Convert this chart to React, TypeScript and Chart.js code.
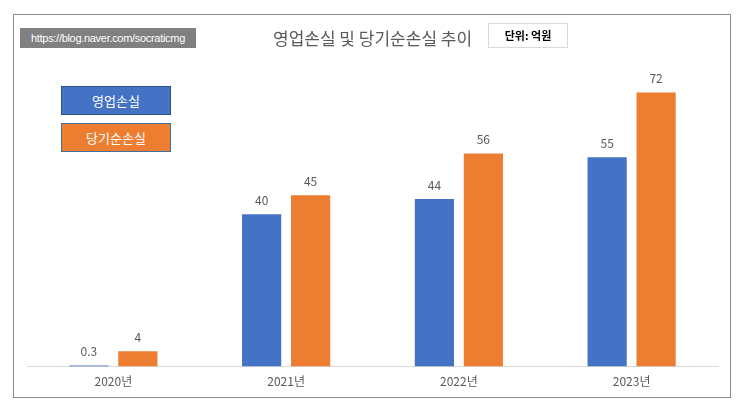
import React, { useEffect, useRef } from "react";
import { Chart, registerables } from "chart.js";

Chart.register(...registerables);

const categories = ["2020년", "2021년", "2022년", "2023년"];
const operatingLoss = [0.3, 40, 44, 55];
const netLoss = [4, 45, 56, 72];
const seriesNames = ["영업손실", "당기순손실"];
const labelsOperating = ["0.3", "40", "44", "55"];
const labelsNet = ["4", "45", "56", "72"];

const BLUE = "#4472C4";
const ORANGE = "#ED7D31";
const KFONT = "'Noto Sans CJK KR', 'Noto Sans', sans-serif";

const valueLabelPlugin = {
  id: "valueLabels",
  afterDatasetsDraw(chart: any) {
    const ctx = chart.ctx;
    ctx.save();
    ctx.fillStyle = "#595959";
    ctx.font = `12px ${KFONT}`;
    ctx.textAlign = "center";
    ctx.textBaseline = "bottom";
    chart.data.datasets.forEach((ds: any, di: number) => {
      const meta = chart.getDatasetMeta(di);
      const texts = di === 0 ? labelsOperating : labelsNet;
      meta.data.forEach((bar: any, i: number) => {
        ctx.fillText(texts[i], bar.x, bar.y - 8);
      });
    });
    ctx.restore();
  },
};

export default function App() {
  const ref = useRef<HTMLCanvasElement | null>(null);
  useEffect(() => {
    if (!ref.current) return;
    const chart = new Chart(ref.current, {
      type: "bar",
      data: {
        labels: categories,
        datasets: [
          {
            label: seriesNames[0],
            data: operatingLoss,
            backgroundColor: BLUE,
            categoryPercentage: 0.567,
            barPercentage: 0.8,
          },
          {
            label: seriesNames[1],
            data: netLoss,
            backgroundColor: ORANGE,
            categoryPercentage: 0.567,
            barPercentage: 0.8,
          },
        ],
      },
      options: {
        responsive: false,
        animation: false,
        layout: { padding: { left: 13, right: 12, top: 47, bottom: 0 } },
        plugins: {
          legend: { display: false },
          tooltip: { enabled: false },
          title: { display: false },
        },
        scales: {
          x: {
            grid: { display: false, drawTicks: false },
            border: { display: true, color: "#D9D9D9", width: 1 },
            ticks: {
              color: "#595959",
              font: { size: 12, family: KFONT },
              padding: 8,
            },
          },
          y: {
            display: false,
            min: 0,
            max: 80,
          },
        },
      },
      plugins: [valueLabelPlugin],
    });
    return () => chart.destroy();
  }, []);

  return (
    <div style={{ position: "relative", width: 727, height: 396 }}>
      <div
        style={{
          position: "absolute",
          left: 5,
          top: 6,
          width: 716,
          height: 382,
          border: "1px solid #8C8C8C",
          background: "#fff",
        }}
      >
        <canvas ref={ref} width={716} height={382} style={{ display: "block" }} />
        <div
          style={{
            position: "absolute",
            left: 6,
            top: 13,
            width: 176,
            height: 20,
            background: "#808080",
            color: "#fff",
            fontFamily: "'Liberation Sans Narrow', 'Liberation Sans', sans-serif",
            fontSize: 11,
            letterSpacing: -0.3,
            lineHeight: "20px",
            textAlign: "center",
          }}
        >
          https://blog.naver.com/socraticmg
        </div>
        <div
          style={{
            position: "absolute",
            left: 259,
            top: 11,
            fontFamily: KFONT,
            fontSize: 17,
            color: "#595959",
            lineHeight: "24px",
            whiteSpace: "nowrap",
          }}
        >
          영업손실 및 당기순손실 추이
        </div>
        <div
          style={{
            position: "absolute",
            left: 474,
            top: 8,
            width: 78,
            height: 23,
            border: "1px solid #D9D9D9",
            fontFamily: KFONT,
            fontSize: 11,
            fontWeight: "bold",
            color: "#000",
            lineHeight: "23px",
            textAlign: "center",
          }}
        >
          단위: 억원
        </div>
        <div
          style={{
            position: "absolute",
            left: 47,
            top: 71,
            width: 108,
            height: 27,
            background: BLUE,
            border: "1px solid #2F528F",
            color: "#fff",
            fontFamily: KFONT,
            fontSize: 13,
            lineHeight: "27px",
            textAlign: "center",
          }}
        >
          {seriesNames[0]}
        </div>
        <div
          style={{
            position: "absolute",
            left: 47,
            top: 108,
            width: 108,
            height: 27,
            background: ORANGE,
            border: "1px solid #41719C",
            color: "#fff",
            fontFamily: KFONT,
            fontSize: 13,
            lineHeight: "27px",
            textAlign: "center",
          }}
        >
          {seriesNames[1]}
        </div>
      </div>
    </div>
  );
}
